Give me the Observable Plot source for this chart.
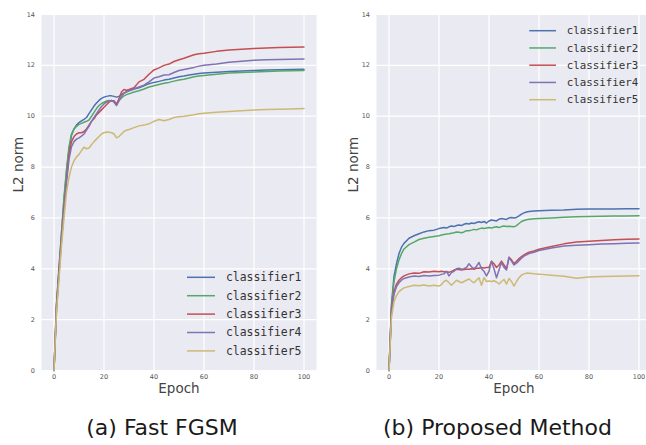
<!DOCTYPE html>
<html>
<head>
<meta charset="utf-8">
<script src="https://cdn.jsdelivr.net/npm/d3@7"></script>
<script src="https://cdn.jsdelivr.net/npm/@observablehq/plot@0.6"></script>
<style>
  html, body { margin: 0; padding: 0; background: #fff; overflow: hidden; }
  #wrap { position: relative; width: 646px; height: 445px; overflow: hidden; background: #fff; }
  .panel { position: absolute; top: 0; width: 330px; }
  .panel svg { max-width: none !important; }
  .caption { position: absolute; font-family: "DejaVu Sans", sans-serif; font-size: 22px; color: #1a1a1a; white-space: nowrap; line-height: 22px; transform: translateX(-50%); }
</style>
</head>
<body>
<div id="wrap"></div>
<script>
const seriesNames = ["classifier1", "classifier2", "classifier3", "classifier4", "classifier5"];
const seriesColors = ["#4C72B0", "#55A868", "#C44E52", "#8172B2", "#CCB974"];
const xTicks = [0, 20, 40, 60, 80, 100];
const yTicks = [0, 2, 4, 6, 8, 10, 12, 14];
const captions = ["(a) Fast FGSM", "(b) Proposed Method"];
const xLabel = "Epoch";
const yLabel = "L2 norm";

// Panel (a) Fast FGSM
const epochsA = [0,1,2,3,4,5,6,7,8,9,10,11,12,13,14,15,16,17,18,19,20,21,22,23,24,25,26,27,28,29,30,32,34,36,38,40,42,44,46,48,50,52,54,56,58,60,65,70,75,80,85,90,95,100];
const a1 = [0,2.6,4.0,5.4,6.7,7.8,8.7,9.25,9.5,9.65,9.75,9.82,9.88,9.95,10.1,10.25,10.4,10.52,10.62,10.7,10.75,10.78,10.8,10.8,10.78,10.75,10.78,10.85,10.92,10.97,11.0,11.07,11.12,11.2,11.28,11.33,11.37,11.42,11.45,11.5,11.55,11.58,11.62,11.65,11.68,11.7,11.73,11.76,11.78,11.8,11.82,11.83,11.84,11.85];
const a2 = [0,2.6,4.0,5.4,6.8,7.9,8.8,9.3,9.5,9.6,9.68,9.72,9.76,9.8,9.85,10.0,10.15,10.3,10.42,10.5,10.55,10.6,10.62,10.6,10.6,10.5,10.62,10.72,10.8,10.85,10.88,10.95,11.0,11.07,11.15,11.2,11.25,11.3,11.33,11.38,11.42,11.45,11.5,11.55,11.58,11.6,11.65,11.7,11.72,11.74,11.76,11.78,11.79,11.8];
const a3 = [0,2.5,3.9,5.2,6.4,7.5,8.5,9.0,9.2,9.3,9.35,9.35,9.4,9.5,9.65,9.8,9.9,10.05,10.15,10.25,10.35,10.45,10.55,10.62,10.6,10.45,10.7,10.95,11.05,11.02,11.05,11.12,11.35,11.45,11.65,11.82,11.9,12.0,12.05,12.15,12.22,12.28,12.35,12.42,12.46,12.48,12.55,12.6,12.63,12.66,12.68,12.7,12.71,12.72];
const a4 = [0,2.4,3.8,5.1,6.3,7.4,8.3,8.8,9.0,9.1,9.15,9.22,9.3,9.45,9.6,9.8,9.95,10.1,10.25,10.38,10.48,10.55,10.6,10.62,10.55,10.42,10.6,10.78,10.9,10.95,11.0,11.08,11.15,11.22,11.35,11.5,11.55,11.62,11.63,11.72,11.8,11.84,11.88,11.92,11.97,12.0,12.05,12.12,12.16,12.2,12.22,12.23,12.24,12.25];
const a5 = [0,2.3,3.6,4.9,6.0,7.0,7.6,8.0,8.25,8.4,8.5,8.65,8.78,8.72,8.75,8.88,9.0,9.1,9.2,9.3,9.35,9.38,9.37,9.35,9.3,9.15,9.2,9.3,9.4,9.45,9.48,9.55,9.62,9.65,9.7,9.8,9.87,9.82,9.87,9.95,9.98,10.0,10.03,10.06,10.1,10.12,10.16,10.19,10.21,10.24,10.26,10.27,10.28,10.3];

// Panel (b) Proposed Method
const epochsB = [0,1,2,3,4,5,6,8,10,12,14,16,18,20,21,22,23,24,25,26,27,28,29,30,31,32,33,34,35,36,37,38,39,40,41,42,43,44,45,46,47,48,49,50,51,52,53,54,55,56,58,60,65,70,75,80,85,90,95,100];
const b1 = [0,2.6,3.7,4.2,4.6,4.85,5.0,5.2,5.3,5.38,5.45,5.5,5.52,5.58,5.6,5.62,5.6,5.65,5.68,5.66,5.7,5.72,5.7,5.75,5.78,5.76,5.8,5.78,5.82,5.85,5.82,5.86,5.8,5.88,5.92,5.9,5.88,5.95,5.98,5.96,5.94,6.0,6.02,6.0,6.02,6.08,6.15,6.2,6.23,6.25,6.27,6.28,6.3,6.31,6.34,6.35,6.35,6.35,6.36,6.36];
const b2 = [0,2.5,3.5,4.0,4.35,4.6,4.78,4.95,5.05,5.15,5.2,5.24,5.27,5.3,5.33,5.35,5.37,5.38,5.4,5.42,5.45,5.44,5.42,5.45,5.5,5.5,5.52,5.55,5.53,5.57,5.6,5.58,5.6,5.62,5.6,5.63,5.65,5.62,5.66,5.68,5.66,5.67,5.66,5.65,5.7,5.78,5.86,5.9,5.93,5.95,5.97,5.98,6.0,6.03,6.05,6.06,6.07,6.08,6.08,6.09];
const b3 = [0,2.4,3.1,3.4,3.55,3.65,3.72,3.8,3.83,3.82,3.88,3.87,3.9,3.88,3.9,3.88,3.88,3.86,3.9,3.95,3.98,3.97,3.95,3.97,3.98,3.98,4.0,3.98,4.02,4.02,4.05,4.03,4.05,4.05,4.3,4.2,4.05,4.15,4.3,4.15,4.0,4.45,4.35,4.2,4.3,4.4,4.48,4.55,4.6,4.65,4.7,4.77,4.88,4.98,5.05,5.08,5.11,5.14,5.16,5.17];
const b4 = [0,2.3,3.0,3.3,3.45,3.55,3.62,3.68,3.72,3.7,3.74,3.72,3.74,3.75,3.78,3.8,3.9,3.72,3.85,3.9,4.0,4.02,3.98,4.0,4.05,4.2,4.08,4.0,4.1,4.25,4.0,3.9,3.72,3.9,4.3,4.0,3.65,3.95,4.25,4.05,3.95,4.45,4.3,4.15,4.22,4.32,4.42,4.5,4.55,4.6,4.65,4.72,4.82,4.9,4.93,4.95,4.97,4.98,5.0,5.01];
const b5 = [0,2.1,2.7,2.95,3.1,3.18,3.25,3.3,3.35,3.33,3.36,3.32,3.35,3.32,3.38,3.5,3.55,3.45,3.35,3.45,3.55,3.5,3.45,3.5,3.55,3.6,3.52,3.45,3.55,3.65,3.35,3.65,3.5,3.52,3.5,3.53,3.48,3.4,3.5,3.58,3.4,3.62,3.5,3.32,3.5,3.65,3.75,3.8,3.83,3.82,3.8,3.79,3.75,3.71,3.63,3.68,3.7,3.71,3.72,3.73];

const seriesA = [a1, a2, a3, a4, a5];
const seriesB = [b1, b2, b3, b4, b5];

function table(epochs, vals) {
  return epochs.map((e, i) => ({epoch: e, value: vals[i]}));
}

function makePanel(epochs, series, cfg) {
  const lines = series.map((vals, k) =>
    Plot.line(table(epochs, vals), {x: "epoch", y: "value", stroke: seriesColors[k], strokeWidth: 1.5})
  );
  const chart = Plot.plot({
    width: cfg.width,
    height: 400,
    marginLeft: cfg.marginLeft,
    marginRight: cfg.marginRight,
    marginTop: 14,
    marginBottom: 30,
    style: {fontFamily: "DejaVu Sans, sans-serif", background: "transparent", overflow: "visible", maxWidth: "none"},
    x: {domain: [-5, 105]},
    y: {domain: [0, 14]},
    marks: [
      Plot.frame({fill: "#EAEAF2", stroke: null}),
      Plot.gridX({ticks: xTicks, stroke: "#ffffff", strokeOpacity: 1, strokeWidth: 1.2}),
      Plot.gridY({ticks: yTicks, stroke: "#ffffff", strokeOpacity: 1, strokeWidth: 1.2}),
      Plot.axisX({ticks: xTicks, tickSize: 0, tickPadding: 4, fontSize: 6.5, fill: "#555", label: null}),
      Plot.axisY({ticks: yTicks, tickSize: 0, tickPadding: 6.5, fontSize: 6.5, fill: "#555", label: null}),
      ...lines,
      Plot.text([xLabel], {text: d => d, frameAnchor: "bottom", dy: 22, fontSize: 13.5, fill: "#444"}),
      Plot.text([yLabel], {text: d => d, frameAnchor: "left", dx: -23, rotate: -90, fontSize: 13.5, fill: "#444"})
    ]
  });
  // legend
  const svg = d3.select(chart);
  const g = svg.append("g")
    .attr("font-family", "DejaVu Sans Mono, monospace")
    .attr("font-size", cfg.legFont)
    .attr("text-anchor", "start");
  seriesNames.forEach((name, k) => {
    const y = cfg.legY + k * cfg.legStep;
    g.append("line").attr("x1", cfg.legX1).attr("x2", cfg.legX2).attr("y1", y).attr("y2", y)
      .attr("stroke", seriesColors[k]).attr("stroke-width", 1.5);
    g.append("text").attr("x", cfg.legTx).attr("y", y).attr("dy", "0.35em")
      .attr("text-anchor", "start").attr("fill", "#333").text(name);
  });
  const div = document.createElement("div");
  div.className = "panel";
  div.style.left = cfg.left + "px";
  div.appendChild(chart);
  return div;
}

const wrap = document.getElementById("wrap");
wrap.appendChild(makePanel(epochsA, seriesA, {
  left: 0, width: 330, marginLeft: 41, marginRight: 14,
  legX1: 187, legX2: 215, legTx: 226, legY: 277.3, legStep: 18.4, legFont: 11.4
}));
const offB = 323;
wrap.appendChild(makePanel(epochsB, seriesB, {
  left: offB, width: 330, marginLeft: 53, marginRight: 2,
  legX1: 529.3 - offB, legX2: 556 - offB, legTx: 566.7 - offB, legY: 30.7, legStep: 17.25, legFont: 10.8
}));

[[162, captions[0]], [497.5, captions[1]]].forEach(([cx, t]) => {
  const d = document.createElement("div");
  d.className = "caption";
  d.style.left = cx + "px";
  d.style.top = "417px";
  d.textContent = t;
  wrap.appendChild(d);
});
</script>
</body>
</html>
